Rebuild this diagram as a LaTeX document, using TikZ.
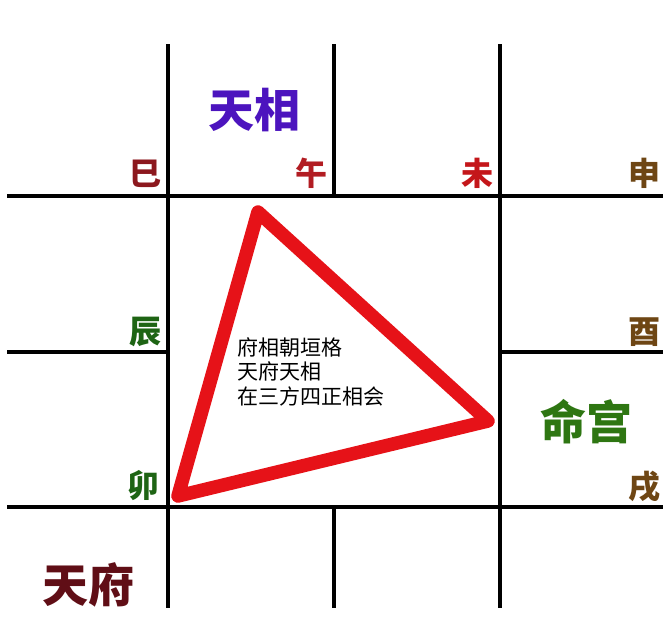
\documentclass[tikz,border=0pt]{standalone}
\usepackage{fontspec}
\setmainfont{Noto Sans CJK SC}
\usepackage{tikz}
\usetikzlibrary{calc,positioning}
\definecolor{triared}{RGB}{230,18,24}
\definecolor{sired}{RGB}{140,24,30}
\definecolor{wured}{RGB}{178,28,34}
\definecolor{weired}{RGB}{196,22,26}
\definecolor{brbrown}{RGB}{110,70,20}
\definecolor{brgreen}{RGB}{30,100,20}
\definecolor{xiangpurple}{RGB}{76,20,190}
\definecolor{fumaroon}{RGB}{96,14,22}
\definecolor{minggreen}{RGB}{46,118,18}

\begin{document}
\begin{tikzpicture}[x=1pt,y=-1pt,
    grid/.style={line width=4pt,black},
    branch/.style={font=\fontsize{32}{32}\selectfont\bfseries,anchor=base east,inner sep=0pt},
    star/.style={font=\fontsize{46}{46}\selectfont\bfseries,inner sep=0pt},
    note/.style={font=\fontsize{21}{24.5}\selectfont,align=left,anchor=north west,inner sep=0pt}]
        \useasboundingbox (0,0) rectangle (670,621);
        % palace grid
        \draw[grid]
        (7,196) -- (663,196)
        (7,507) -- (663,507)
        (7,352) -- (168,352) (500,352) -- (663,352)
        (168,44) -- (168,608)
        (500,44) -- (500,608)
        (334,44) -- (334,196) (334,507) -- (334,608);
        % earthly branches
        \node[branch,sired] (si) at (162,185) {巳};
        \node[branch,wured] (wu) at (328,185) {午};
        \node[branch,weired] (wei) at (494,185) {未};
        \node[branch,brbrown] (shen) at (661,185) {申};
        \node[branch,brgreen] (chen) at (162,343) {辰};
        \node[branch,brbrown] (you) at (661,343) {酉};
        \node[branch,brgreen] (mao) at (160,497) {卯};
        \node[branch,brbrown] (xu) at (661,498) {戌};
        % stars and palace
        \node[star,xiangpurple] (tianxiang) at (254,110) {天相};
        \node[star,fumaroon] (tianfu) at (88,585) {天府};
        \node[star,minggreen] (minggong) at (586,422) {命宫};
        % triangle
        \coordinate (A) at (258,212);
        \coordinate (B) at (488,421);
        \coordinate (C) at (178,496);
        \draw[triared,line width=13.5pt,line join=round] (A) -- (B) -- (C) -- cycle;
        \node[note] (geju) at (237,337) {府相朝垣格\\天府天相\\在三方四正相会};
      \end{tikzpicture}
\end{document}
